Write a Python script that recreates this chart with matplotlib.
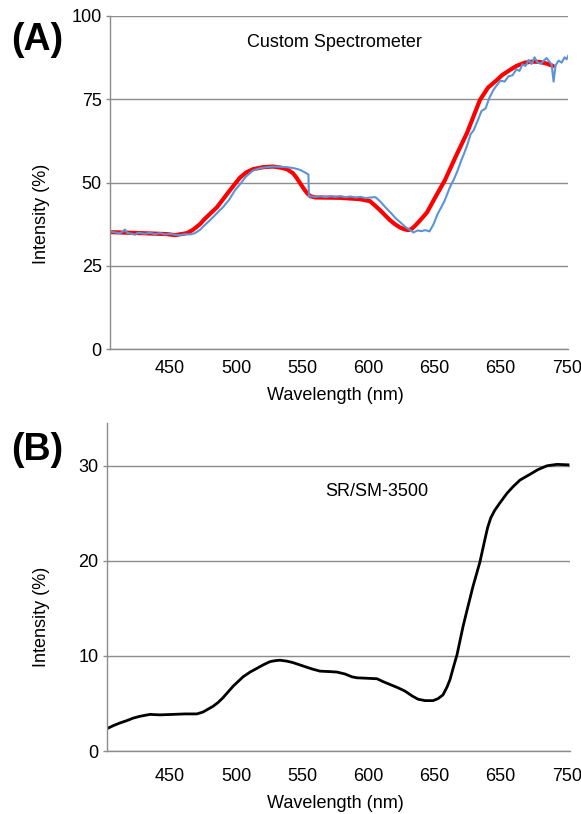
"""Two stacked spectra: custom spectrometer vs SR/SM-3500 reference."""

import matplotlib
matplotlib.use("Agg")
import matplotlib.pyplot as plt

plt.rcParams["font.family"] = ["Liberation Sans", "DejaVu Sans"]

# ---- panel A: custom spectrometer (red = reference, blue = measured) ----
red_wl = [404.5, 419.6, 434.7, 447.6, 453.7, 462.8, 467.3, 472.6, 476.0, 485.5,
          495.3, 502.9, 507.5, 512.7, 520.3, 527.8, 533.1, 538.4, 542.9, 545.5,
          548.3, 551.0, 553.6, 556.0, 560.0, 578.5, 593.6, 601.2, 608.8, 612.5,
          616.3, 620.0, 623.9, 627.0, 630.0, 632.5, 635.3, 639.5, 644.3, 650.5,
          657.9, 666.3, 674.6, 684.4, 690.5, 697.3, 701.0, 707.1, 712.0, 718.5,
          724.0, 729.8, 735.0, 739.6]
red_int = [35.1, 34.9, 34.7, 34.5, 34.2, 34.8, 35.8, 37.5, 39.0, 42.6,
           47.7, 51.5, 53.0, 54.0, 54.6, 54.8, 54.5, 54.0, 52.8, 51.5,
           49.8, 48.2, 46.8, 45.9, 45.5, 45.4, 45.0, 44.4, 41.7, 40.2,
           38.7, 37.5, 36.5, 36.0, 35.7, 36.0, 37.0, 38.8, 41.0, 45.5,
           50.7, 58.0, 64.9, 74.8, 78.5, 80.8, 82.2, 83.8, 85.0, 86.0,
           86.3, 86.2, 85.7, 85.0]

blue_wl = [404.5, 408.2, 412.1, 414.3, 415.8, 417.3, 421.1, 423.4, 425.6, 431.0,
           434.7, 438.5, 442.3, 446.1, 449.9, 453.7, 457.5, 461.3, 465.1, 468.8,
           472.6, 476.4, 480.2, 484.7, 490.0, 494.6, 499.1, 502.9, 507.4, 512.7,
           518.0, 523.3, 527.8, 533.1, 538.4, 543.7, 548.3, 552.1, 554.6, 555.0,
           560.0, 563.8, 567.6, 571.3, 575.1, 578.9, 582.7, 586.5, 590.3, 594.0,
           597.8, 601.6, 605.4, 609.2, 613.0, 616.7, 620.5, 624.3, 628.1, 631.9,
           634.1, 637.2, 640.2, 643.2, 646.2, 649.3, 652.3, 655.3, 657.6, 659.9,
           662.1, 664.4, 667.4, 670.4, 672.7, 675.0, 677.3, 679.5, 682.6, 685.6,
           688.6, 691.6, 694.6, 697.7, 699.9, 703.0, 706.0, 709.0, 712.0, 714.3,
           716.6, 718.9, 721.2, 723.4, 725.7, 728.0, 730.3, 732.5, 734.8, 737.1,
           738.6, 740.1, 741.6, 743.9, 746.2, 748.4, 749.9, 751.5]
blue_int = [35.4, 35.0, 34.8, 35.3, 35.9, 34.9, 34.6, 34.3, 34.9, 34.6,
            34.9, 34.5, 34.8, 34.4, 34.6, 34.3, 34.2, 34.5, 34.4, 34.8,
            35.8, 37.3, 38.7, 40.5, 42.6, 44.8, 47.7, 49.5, 51.8, 53.6,
            54.3, 54.6, 54.8, 54.7, 54.6, 54.3, 53.8, 53.0, 52.4, 45.9,
            45.7, 45.9, 45.6, 45.9, 45.7, 45.9, 45.6, 45.8, 45.5, 45.7,
            45.3, 45.5, 45.6, 44.2, 42.5, 41.0, 39.3, 38.0, 36.6, 35.6,
            35.0, 35.6, 35.4, 35.7, 35.3, 37.5, 40.5, 42.7, 44.5, 46.8,
            49.0, 50.7, 53.5, 56.8, 59.0, 61.5, 64.5, 65.6, 68.5, 71.5,
            72.2, 75.5, 77.8, 79.5, 80.6, 80.3, 81.9, 82.2, 84.0, 83.5,
            85.5, 85.0, 86.8, 85.6, 87.6, 86.0, 85.7, 86.5, 87.4, 86.2,
            85.5, 80.3, 85.2, 86.6, 86.0, 87.6, 87.0, 88.3]

# ---- panel B: SR/SM-3500 ----
sr_wl = [403.0, 407.6, 412.1, 417.4, 421.9, 427.2, 434.8, 442.3, 452.2, 461.3,
         470.3, 474.9, 478.7, 482.5, 486.3, 490.0, 493.8, 497.6, 501.4, 505.2,
         510.5, 515.8, 520.3, 525.6, 529.4, 533.1, 538.4, 542.9, 548.3, 553.6,
         558.1, 563.4, 571.0, 576.3, 582.3, 587.6, 591.4, 599.0, 606.5, 611.1,
         616.3, 622.4, 627.7, 633.0, 637.5, 642.8, 648.9, 652.6, 656.4, 659.4,
         661.7, 664.7, 667.0, 669.3, 671.6, 674.6, 679.1, 684.4, 688.2, 690.2,
         692.5, 695.5, 699.5, 704.8, 709.4, 714.7, 722.2, 728.3, 735.1, 742.7,
         751.0]
sr_int = [2.4, 2.7, 2.95, 3.2, 3.45, 3.65, 3.85, 3.8, 3.85, 3.9,
          3.9, 4.1, 4.4, 4.7, 5.1, 5.6, 6.2, 6.8, 7.3, 7.8,
          8.3, 8.7, 9.05, 9.4, 9.5, 9.55, 9.45, 9.3, 9.05, 8.8,
          8.6, 8.4, 8.35, 8.3, 8.1, 7.8, 7.7, 7.65, 7.6, 7.3,
          7.0, 6.65, 6.3, 5.8, 5.45, 5.3, 5.3, 5.5, 5.9, 6.7,
          7.5, 9.0, 10.1, 11.6, 13.1, 14.8, 17.3, 19.9, 22.3, 23.5,
          24.5, 25.3, 26.1, 27.1, 27.8, 28.5, 29.1, 29.6, 30.0, 30.15,
          30.1]

x_ticks = [450, 500, 550, 600, 650, 700, 750]
x_tick_labels = ["450", "500", "550", "600", "650", "650", "750"]  # as printed
a_yticks = [0, 25, 50, 75, 100]
b_yticks = [0, 10, 20, 30]

GRID = "#8c8c8c"
W, H = 581, 814


def style_axes(ax, yticks, xpad):
    ax.set_yticks(yticks)
    ax.set_xticks(x_ticks)
    ax.set_xticklabels(x_tick_labels)
    ax.yaxis.grid(True, color=GRID, linewidth=1.0)
    ax.set_axisbelow(True)
    for side in ("top", "right"):
        ax.spines[side].set_visible(False)
    for side in ("left", "bottom"):
        ax.spines[side].set_color(GRID)
        ax.spines[side].set_linewidth(1.0)
    ax.tick_params(axis="y", length=3, width=1.0, color=GRID, pad=3,
                   labelsize=13)
    ax.tick_params(axis="x", length=0, pad=xpad, labelsize=13)


fig = plt.figure(figsize=(W / 100, H / 100), dpi=100)

# panel A
ax_a = fig.add_axes([110 / W, 1 - 349 / H, 458 / W, 333 / H])
ax_a.plot(red_wl, red_int, color="#ff0000", linewidth=3.0,
          solid_joinstyle="round", solid_capstyle="round")
ax_a.plot(blue_wl, blue_int, color="#5b94d6", linewidth=1.5)
ax_a.set_xlim(404.5, 751.0)
ax_a.set_ylim(0, 100)
style_axes(ax_a, a_yticks, 8)
ax_a.text(574.6, 91.9, "Custom Spectrometer", ha="center", va="center",
          fontsize=13)

# panel B
ax_b = fig.add_axes([107 / W, 1 - 751 / H, 463 / W, 328 / H])
ax_b.plot(sr_wl, sr_int, color="black", linewidth=2.0, solid_joinstyle="round")
ax_b.set_xlim(402.3, 752.5)
ax_b.set_ylim(0, 34.5)
style_axes(ax_b, b_yticks, 12)
ax_b.text(606.0, 27.3, "SR/SM-3500", ha="center", va="center", fontsize=13)

# labels placed in figure coords to sit where the original put them
fig.text(335 / W, 1 - 396 / H, "Wavelength (nm)", ha="center", va="center",
         fontsize=13)
fig.text(335 / W, 1 - 803 / H, "Wavelength (nm)", ha="center", va="center",
         fontsize=13)
fig.text(42 / W, 1 - 214 / H, "Intensity (%)", ha="center", va="center",
         rotation=90, fontsize=13)
fig.text(42 / W, 1 - 617 / H, "Intensity (%)", ha="center", va="center",
         rotation=90, fontsize=13)
fig.text(37 / W, 1 - 40 / H, "(A)", ha="center", va="center",
         fontsize=27, fontweight="bold")
fig.text(37 / W, 1 - 450 / H, "(B)", ha="center", va="center",
         fontsize=27, fontweight="bold")

fig.savefig("out.png", dpi=100)
